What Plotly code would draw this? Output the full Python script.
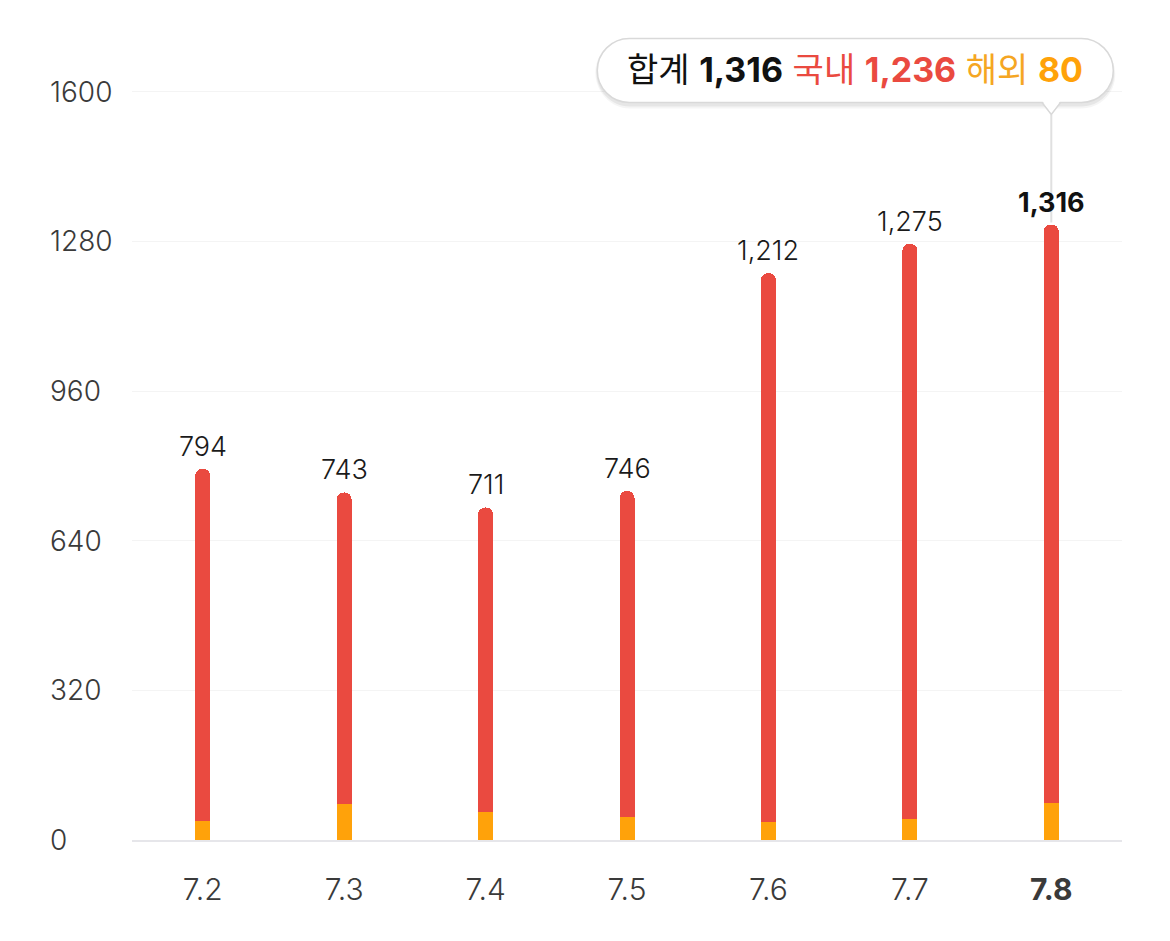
import plotly.graph_objects as go

categories = ["7.2", "7.3", "7.4", "7.5", "7.6", "7.7", "7.8"]
totals = [794, 743, 711, 746, 1212, 1275, 1316]
overseas = [41, 76, 60, 50, 39, 44, 80]
domestic = [t - o for t, o in zip(totals, overseas)]
y_ticks = [0, 320, 640, 960, 1280, 1600]

RED = "#EA4A40"
ORANGE = "#FFA20A"
ORANGE_TXT = "#F5A623"
FONT = "Inter, Noto Sans CJK KR, sans-serif"

fig = go.Figure()
fig.add_trace(go.Bar(x=categories, y=overseas, marker=dict(color=ORANGE, line=dict(width=0)),
                     width=0.106, hoverinfo="skip"))
fig.add_trace(go.Bar(x=categories, y=domestic, marker=dict(color=RED, line=dict(width=0)),
                     width=0.106, hoverinfo="skip"))

ticktext = [c if i < len(categories) - 1 else "<b>%s</b>" % c for i, c in enumerate(categories)]

fig.update_layout(
    barmode="stack",
    barcornerradius="50%",
    width=1170, height=941,
    margin=dict(l=132, r=48, t=0, b=101),
    paper_bgcolor="white", plot_bgcolor="white",
    showlegend=False,
    font=dict(family=FONT),
    xaxis=dict(type="category", categoryorder="array", categoryarray=categories,
               range=[-0.5, 6.5], tickvals=categories, ticktext=ticktext,
               tickfont=dict(size=30, color="#3a3a3a", family=FONT, weight=300),
               showgrid=False, zeroline=False, showline=True, linecolor="#e6e6ea", linewidth=2,
               ticks="", ticklabelstandoff=22),
    yaxis=dict(range=[0, 1796], tickvals=y_ticks, showticklabels=False,
               showgrid=True, gridcolor="#f4f4f4", gridwidth=1, zeroline=False, ticks=""),
)

# y tick labels, left aligned
for v in y_ticks:
    fig.add_annotation(x=(48 - 132) / 990, xref="paper", y=v, yref="y", xanchor="left",
                       yanchor="middle", text=str(v), showarrow=False,
                       font=dict(size=28, color="#3a3a3a", family=FONT, weight=300))

# tooltip shapes (pixel positioned, anchored at last bar top)
last_i = len(categories) - 1
anchor_x = last_i
anchor_y = totals[-1]
x0, x1 = -454, 62
y0, y1 = 122, 186
r = (y1 - y0) / 2

def pill_c(x0, x1, y0, y1, r, ox=0, oy=0):
    k = 0.5523 * r
    x0 += ox; x1 += ox; y0 += oy; y1 += oy
    return (f"M {x0 + r},{y0} L {x1 - r},{y0} "
            f"C {x1 - r + k},{y0} {x1},{y0 + r - k} {x1},{y0 + r} "
            f"C {x1},{y0 + r + k} {x1 - r + k},{y1} {x1 - r},{y1} "
            f"L {x0 + r},{y1} "
            f"C {x0 + r - k},{y1} {x0},{y1 - r + k} {x0},{y1 - r} "
            f"C {x0},{y1 - r - k} {x0 + r - k},{y0} {x0 + r},{y0} Z")

common = dict(type="path", xref="x", yref="y", xsizemode="pixel", ysizemode="pixel",
              xanchor=anchor_x, yanchor=anchor_y, layer="above")

# shadow
for d, a in [(4, 0.04), (2, 0.06)]:
    fig.add_shape(path=pill_c(x0 - d / 2, x1 + d / 2, y0 - d, y1 + d / 2, r + d / 2, oy=-2),
                  fillcolor=f"rgba(0,0,0,{a})", line=dict(width=0), **common)
# vertical line
fig.add_shape(path="M 0,2 L 0,110", line=dict(color="#e0e0e0", width=2), **common)
# pointer triangle
fig.add_shape(path=f"M -10,{y0 + 1} L 0,110 L 10,{y0 + 1} Z", fillcolor="white",
              line=dict(color="#d9d9d9", width=1.5), **common)
# box
fig.add_shape(path=pill_c(x0, x1, y0, y1, r), fillcolor="white",
              line=dict(color="#d9d9d9", width=1.5), **common)
# cover triangle base line
fig.add_shape(path=f"M -9,{y0 + 1.5} L 0,112 L 9,{y0 + 1.5} Z", fillcolor="white",
              line=dict(width=0), **common)

# value labels
for i, t in enumerate(totals):
    last = i == len(categories) - 1
    fig.add_annotation(x=i, y=t, xref="x", yref="y", yanchor="bottom", yshift=4,
                       text=("<b>{:,}</b>" if last else "{:,}").format(t), showarrow=False,
                       font=dict(size=27, color="#111" if last else "#1a1a1a", family=FONT,
                                 weight=700 if last else 300))

tip = ("합계 <b>1,316</b> "
       f"<span style='color:{RED}'>국내 <b>{domestic[-1]:,}</b></span> "
       f"<span style='color:{ORANGE_TXT}'>해외 <b style='color:{ORANGE}'>{overseas[-1]:,}</b></span>")
fig.add_annotation(x=anchor_x, y=anchor_y, xref="x", yref="y", xanchor="center", yanchor="middle",
                   xshift=(x0 + x1) / 2, yshift=(y0 + y1) / 2 + 1, text=tip, showarrow=False,
                   font=dict(size=34, color="#111", family=FONT))

fig.write_html("out.html")
